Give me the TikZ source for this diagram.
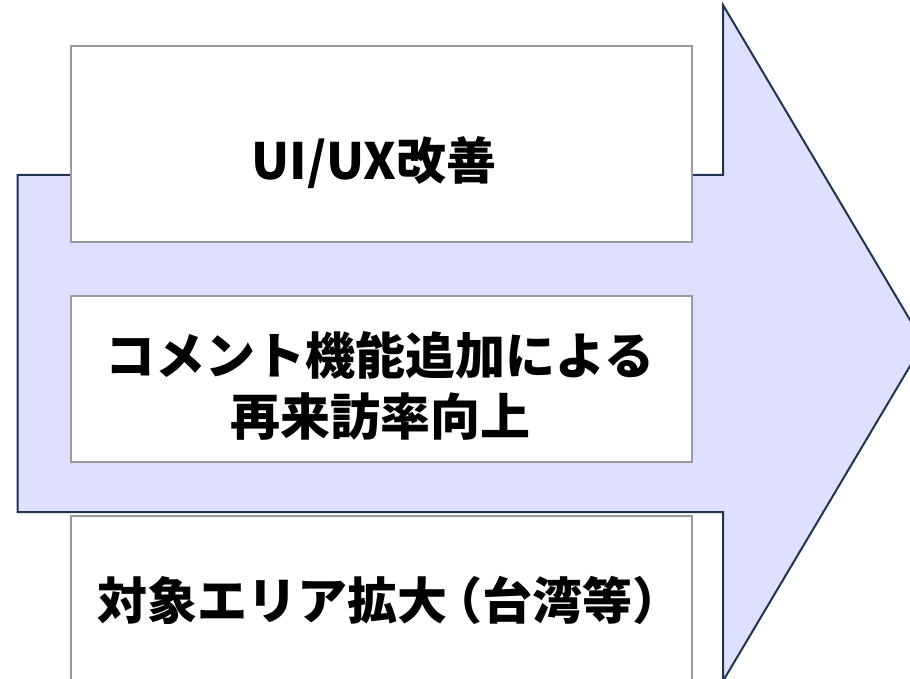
\documentclass[tikz,border=0pt]{standalone}
\usepackage{fontspec}
\newfontfamily\jpfont{Noto Sans CJK JP}
\definecolor{arrowfill}{HTML}{DFDFFF}
\definecolor{arrowline}{HTML}{1F3354}
\definecolor{boxline}{HTML}{9A9A9A}
\begin{document}
\begin{tikzpicture}[x=1pt,y=-1pt,
  bigarrow/.style={fill=arrowfill,draw=arrowline,line width=2pt,line join=miter},
  itembox/.style={draw=boxline,fill=white,line width=2pt,rectangle,inner sep=0pt,anchor=north west,minimum width=621pt},
  itemtext/.style={font=\jpfont\bfseries\fontsize{50}{61}\selectfont,align=center,inner sep=0pt,text=black}]
\useasboundingbox (0,0) rectangle (910,679);
\coordinate (a1) at (17.5,175);
\coordinate (a2) at (723,175);
\coordinate (a3) at (723,5);
\coordinate (a4) at (923.7,343);
\coordinate (a5) at (723,681);
\coordinate (a6) at (723,512);
\coordinate (a7) at (17.5,512);
\draw[bigarrow] (a1) -- (a2) -- (a3) -- (a4) -- (a5) -- (a6) -- (a7) -- cycle;
\node[itembox,minimum height=196pt] (b1) at (70,45) {};
\node[itembox,minimum height=166pt] (b2) at (70,295) {};
\node[itembox,minimum height=190pt] (b3) at (70,515) {};
\node[itemtext] (t1) at (374,163) {UI/UX改善};
\node[itemtext] (t2) at (380,386) {コメント機能追加による\\再来訪率向上};
\node[itemtext] (t3) at (390,600) {対象エリア拡大\kern-0.3em（台湾等）};
\end{tikzpicture}
\end{document}
